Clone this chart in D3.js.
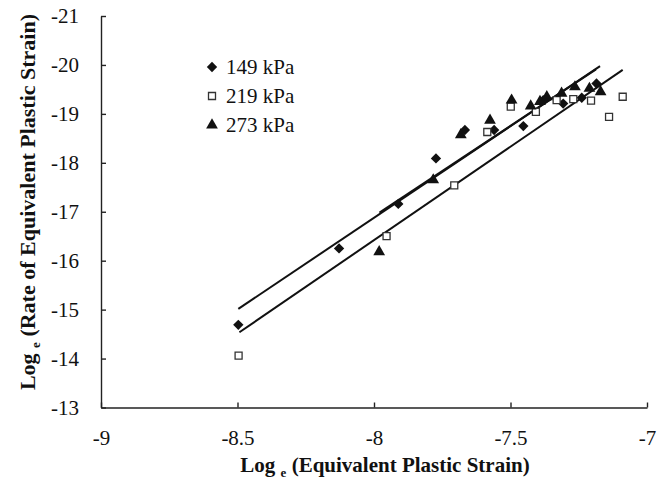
<!DOCTYPE html>
<html>
<head>
<meta charset="utf-8">
<script src="https://cdn.jsdelivr.net/npm/d3@7"></script>
<style>
  body { margin: 0; background: white; }
  text { font-family: 'Liberation Serif', 'Times New Roman', serif; }
</style>
</head>
<body>
<script>
// values
const xTicks = [-9, -8.5, -8, -7.5, -7]
const yTicks = [-21, -20, -19, -18, -17, -16, -15, -14, -13]

const seriesNames = ['149 kPa', '219 kPa', '273 kPa']

const x149 = [-8.497, -8.128, -7.911, -7.773, -7.667, -7.560, -7.453, -7.380, -7.307, -7.239, -7.185]
const y149 = [-14.69, -16.25, -17.16, -18.09, -18.67, -18.67, -18.75, -19.28, -19.21, -19.33, -19.62]

const x219 = [-8.496, -7.954, -7.706, -7.585, -7.499, -7.407, -7.331, -7.270, -7.205, -7.139, -7.089]
const y219 = [-14.06, -16.50, -17.54, -18.63, -19.15, -19.04, -19.28, -19.30, -19.27, -18.94, -19.35]

const x273 = [-7.981, -7.783, -7.682, -7.575, -7.496, -7.426, -7.392, -7.367, -7.313, -7.264, -7.211, -7.170]
const y273 = [-16.18, -17.65, -18.57, -18.87, -19.28, -19.16, -19.25, -19.35, -19.42, -19.55, -19.52, -19.45]

// linear trendlines: slope, intercept, x range
const trendSlope = [-3.743, -3.82, -3.69]
const trendIntercept = [-46.82, -46.98, -46.43]
const trendFrom = [-8.497, -8.493, -7.98]
const trendTo = [-7.172, -7.089, -7.187]

const width = 670
const height = 480
const margin = { left: 101, right: 23, top: 16, bottom: 72.5 }

const svg = d3.select('body')
  .append('svg')
  .attr('width', width)
  .attr('height', height)

const xScale = d3.scaleLinear()
  .domain([-9, -7])
  .range([margin.left, width - margin.right])

// -21 on top, -13 at the bottom
const yScale = d3.scaleLinear()
  .domain([-21, -13])
  .range([margin.top, height - margin.bottom])

const xAxis = d3.axisBottom(xScale)
  .tickValues(xTicks)
  .tickFormat(d => String(d))
  .tickSizeInner(-5)
  .tickSizeOuter(0)
  .tickPadding(23)

const yAxis = d3.axisLeft(yScale)
  .tickValues(yTicks)
  .tickFormat(d => String(d))
  .tickSizeInner(-5)
  .tickSizeOuter(0)
  .tickPadding(22)

const gx = svg.append('g')
  .attr('transform', 'translate(0,' + (height - margin.bottom) + ')')
  .call(xAxis)

const gy = svg.append('g')
  .attr('transform', 'translate(' + margin.left + ',0)')
  .call(yAxis)

for (const g of [gx, gy]) {
  g.select('.domain').attr('stroke', '#222').attr('stroke-width', 1.4)
  g.selectAll('.tick line').attr('stroke', '#222').attr('stroke-width', 1.4)
  g.selectAll('.tick text')
    .attr('fill', '#111')
    .style('font-family', "'Liberation Serif', serif")
    .style('font-size', '21px')
}

// axis titles with subscript e
const xTitle = svg.append('text')
  .attr('x', 385)
  .attr('y', 472)
  .attr('text-anchor', 'middle')
  .style('font-weight', 'bold')
  .style('font-size', '21px')
  .attr('fill', '#111')
xTitle.append('tspan').text('Log ')
xTitle.append('tspan').text('e').style('font-size', '13px').attr('dy', 5)
xTitle.append('tspan').text(' (Equivalent Plastic Strain)').attr('dy', -5)

const yTitle = svg.append('text')
  .attr('transform', 'translate(35,202)rotate(-90)')
  .attr('text-anchor', 'middle')
  .style('font-weight', 'bold')
  .style('font-size', '22px')
  .attr('fill', '#111')
yTitle.append('tspan').text('Log ')
yTitle.append('tspan').text('e').style('font-size', '13px').attr('dy', 5)
yTitle.append('tspan').text('  (Rate of Equivalent Plastic Strain)').attr('dy', -5)

// trendlines
const trends = seriesNames.map((name, i) => [trendFrom[i], trendTo[i]]
  .map(xv => [xv, trendSlope[i] * xv + trendIntercept[i]]))

const line = d3.line()
  .x(d => xScale(d[0]))
  .y(d => yScale(d[1]))

svg.append('g')
  .selectAll('path')
  .data(trends)
  .enter()
  .append('path')
  .attr('d', line)
  .attr('fill', 'none')
  .attr('stroke', '#111')
  .attr('stroke-width', 2)

// markers
const symbols = [d3.symbolDiamond2 || d3.symbolDiamond, d3.symbolSquare, d3.symbolTriangle]
const symbolSizes = [68, 49, 60]
const fills = ['#111', 'white', '#111']
const strokes = ['none', '#333', 'none']

const allX = [x149, x219, x273]
const allY = [y149, y219, y273]

const points = []
seriesNames.forEach((name, i) => {
  allX[i].forEach((xv, j) => points.push({ s: i, x: xv, y: allY[i][j] }))
})

function marker(sel) {
  sel.attr('d', d => d3.symbol().type(symbols[d.s]).size(symbolSizes[d.s])())
    .attr('fill', d => fills[d.s])
    .attr('stroke', d => strokes[d.s])
    .attr('stroke-width', 1.3)
}

svg.append('g')
  .selectAll('path')
  .data(points)
  .enter()
  .append('path')
  .attr('transform', d => 'translate(' + xScale(d.x) + ',' + yScale(d.y) + ')')
  .call(marker)

// legend
const legend = svg.append('g')
  .selectAll('g')
  .data(seriesNames)
  .enter()
  .append('g')
  .attr('transform', (d, i) => 'translate(212,' + (67 + i * 29) + ')')

legend.append('path')
  .datum((d, i) => ({ s: i }))
  .call(marker)

legend.append('text')
  .attr('x', 14)
  .attr('dy', '0.35em')
  .style('font-size', '21px')
  .attr('fill', '#111')
  .text(d => d)
</script>
</body>
</html>
